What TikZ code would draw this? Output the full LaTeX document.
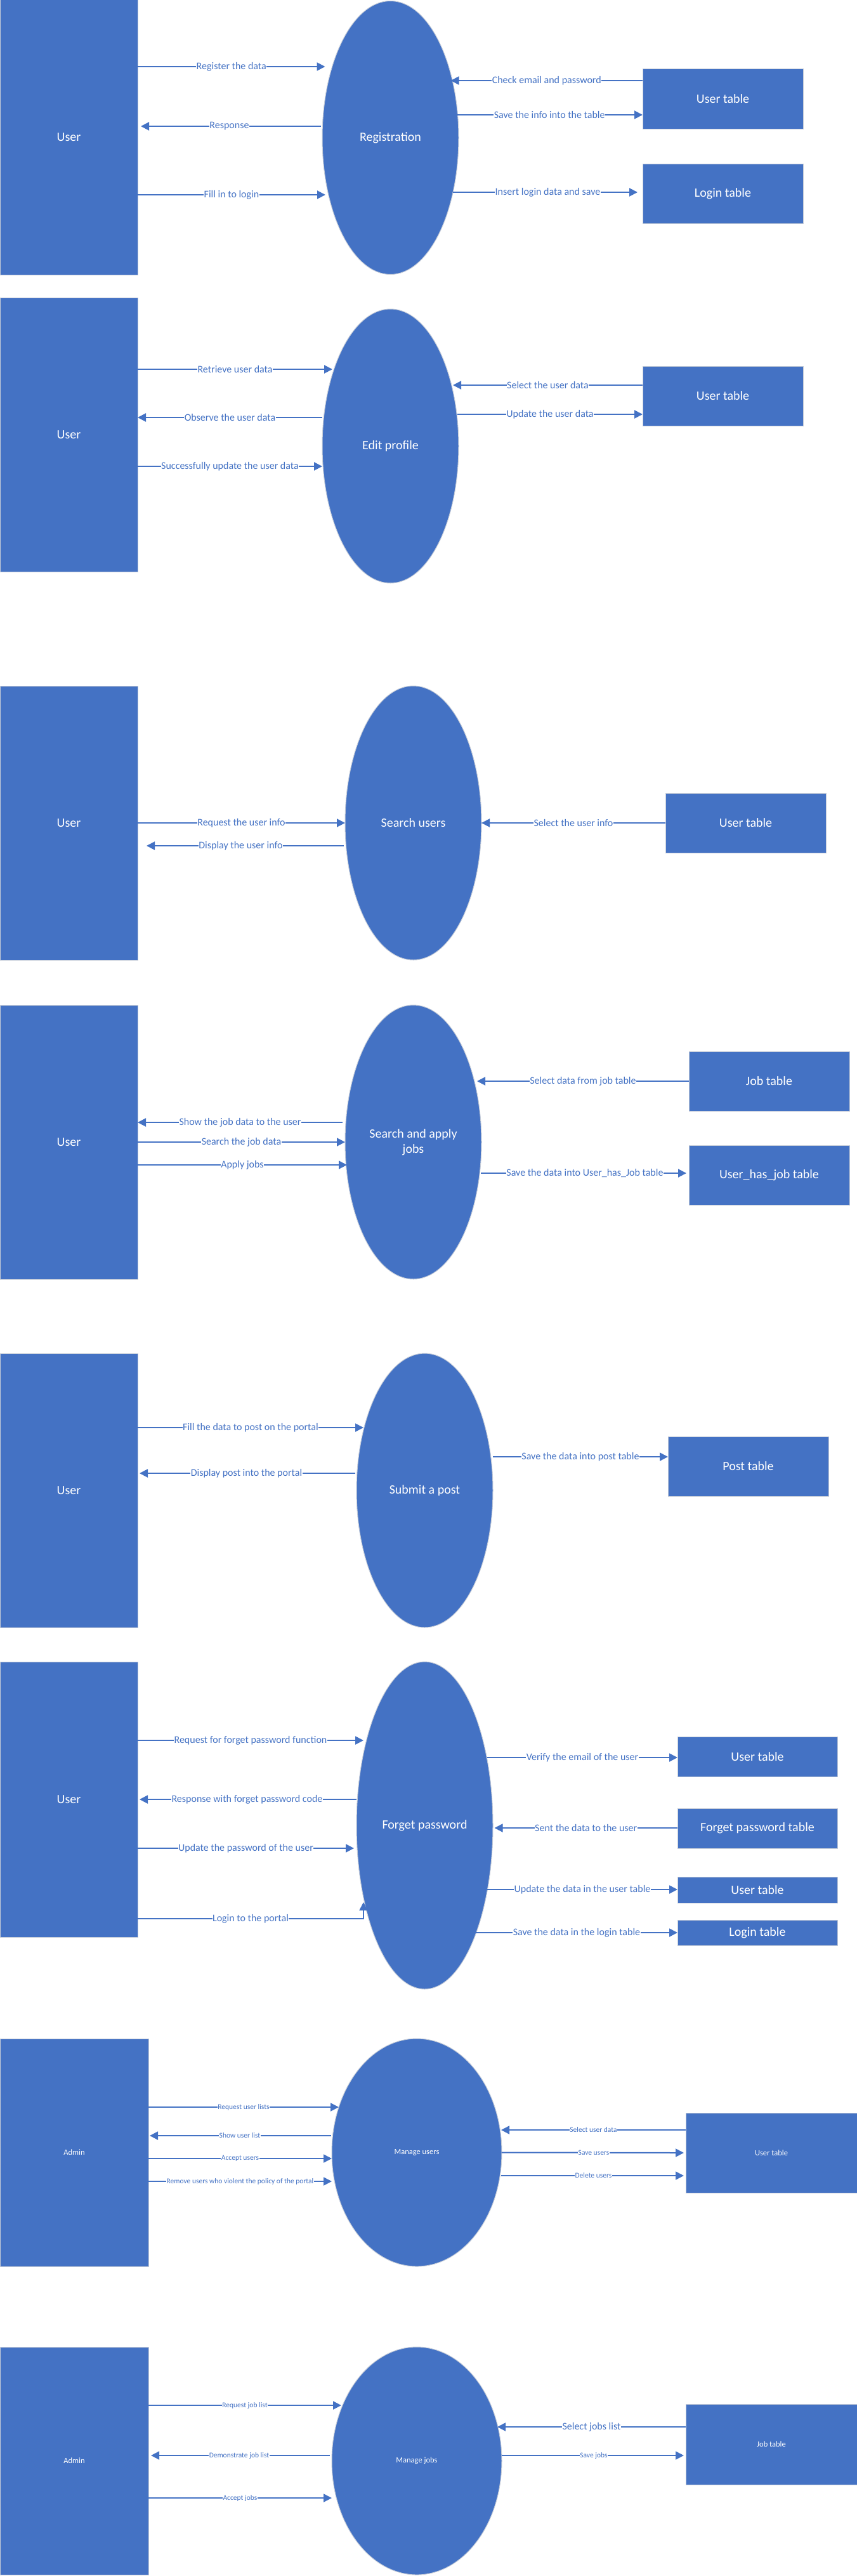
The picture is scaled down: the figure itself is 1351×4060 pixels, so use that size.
\documentclass[tikz,border=0pt]{standalone}
\usepackage{fontspec}
\setmainfont{Carlito}
\usetikzlibrary{shapes.geometric,arrows.meta,calc}
\definecolor{blu}{HTML}{4472C4}
\definecolor{edgec}{HTML}{C5CCD8}
\newcommand\fBig{\fontsize{20}{24}\selectfont}
\newcommand\fLab{\fontsize{16}{19}\selectfont}
\newcommand\fSmB{\fontsize{12.5}{15}\selectfont}
\newcommand\fSmL{\fontsize{11.5}{14}\selectfont}
\begin{document}
\begin{tikzpicture}[x=1pt,y=-1pt,
  ent/.style={rectangle,fill=blu,draw=edgec,line width=1pt,text=white,font=\fBig,inner sep=0pt,outer sep=0pt,align=center},
  proc/.style={ellipse,fill=blu,draw=edgec,line width=1pt,text=white,font=\fBig,inner sep=0pt,outer sep=0pt,align=center},
  sz/.style 2 args={minimum width=#1pt,minimum height=#2pt},
  arr/.style={draw=blu,line width=2pt,-{Triangle[length=13pt,width=13pt]}},
  lab/.style={fill=white,text=blu,font=\fLab,inner sep=0.5pt},
  slab/.style={lab,font=\fSmL},
  sent/.style={font=\fSmB}]
\useasboundingbox[fill=white] (0,0) rectangle (1351,4060);

% ---------- Registration ----------
\node[ent,sz={217}{433}] (u1) at (108.5,216.5) {User};
\node[proc,sz={215}{431}] (p1) at (615.5,217) {Registration};
\node[ent,sz={253}{94}] (t1a) at (1139.5,156) {User table};
\node[ent,sz={253}{94}] (t1b) at (1139.5,305) {Login table};
\draw[arr] (u1.east |- 0,105) -- node[lab]{Register the data} ($(p1.center)+(-103,-112)$);
\draw[arr] (t1a.west |- 0,127) -- node[lab]{Check email and password} ($(p1.center)+(95,-90)$);
\draw[arr] ($(p1.center)+(104,-36)$) -- node[lab]{Save the info into the table} (t1a.west |- 0,181);
\draw[arr,shorten >=5pt] ($(p1.center)+(-109.5,-18)$) -- node[lab]{Response} (u1.east |- 0,199);
\draw[arr] (u1.east |- 0,307) -- node[lab]{Fill in to login} ($(p1.center)+(-102.5,90)$);
\draw[arr,shorten >=8pt] ($(p1.center)+(98.5,86)$) -- node[lab]{Insert login data and save} (t1b.west |- 0,303);

% ---------- Edit profile ----------
\node[ent,sz={217}{432}] (u2) at (108.5,685) {User};
\node[proc,sz={215}{432}] (p2) at (615.5,703) {Edit profile};
\node[ent,sz={253}{94}] (t2) at (1139.5,624) {User table};
\draw[arr] (u2.east |- 0,582) -- node[lab]{Retrieve user data} ($(p2.center)+(-91.5,-121)$);
\draw[arr] (t2.west |- 0,607) -- node[lab]{Select the user data} ($(p2.center)+(98.5,-96)$);
\draw[arr] ($(p2.center)+(105.5,-50)$) -- node[lab]{Update the user data} (t2.west |- 0,653);
\draw[arr] ($(p2.center)+(-107.5,-45)$) -- node[lab]{Observe the user data} (u2.east |- 0,658);
\draw[arr] (u2.east |- 0,735) -- node[lab]{Successfully update the user data} ($(p2.center)+(-107.5,32)$);

% ---------- Search users ----------
\node[ent,sz={217}{432}] (u3) at (108.5,1297) {User};
\node[proc,sz={215}{432}] (p3) at (651.5,1297) {Search users};
\node[ent,sz={253}{94}] (t3) at (1175.5,1297) {User table};
\draw[arr] (u3.east) -- node[lab]{Request the user info} (p3.west);
\draw[arr] (t3.west) -- node[lab]{Select the user info} (p3.east);
\draw[arr,shorten >=14pt] ($(p3.center)+(-109.5,36)$) -- node[lab]{Display the user info} (u3.east |- 0,1333);

% ---------- Search and apply jobs ----------
\node[ent,sz={217}{432}] (u4) at (108.5,1800) {User};
\node[proc,sz={215}{432}] (p4) at (651.5,1800) {Search and apply\\jobs};
\node[ent,sz={253}{94}] (tj) at (1212.5,1704) {Job table};
\node[ent,sz={253}{94}] (tuj) at (1212.5,1852) {User\_has\_job table};
\draw[arr] (tj.west) -- node[lab]{Select data from job table} ($(p4.center)+(100.5,-96)$);
\draw[arr] ($(p4.center)+(-111.5,-31)$) -- node[lab]{Show the job data to the user} (u4.east |- 0,1769);
\draw[arr] (u4.east) -- node[lab]{Search the job data} (p4.west);
\draw[arr] (u4.east |- 0,1836) -- node[lab]{Apply jobs} ($(p4.center)+(-104.5,36)$);
\draw[arr,shorten >=4pt] ($(p4.center)+(106.5,49)$) -- node[lab]{Save the data into User\_has\_Job table} (tuj.west |- 0,1849);

% ---------- Submit a post ----------
\node[ent,sz={217}{432}] (u5) at (108.5,2349) {User};
\node[proc,sz={215}{432}] (p5) at (669.5,2349) {Submit a post};
\node[ent,sz={253}{94}] (tp) at (1179.5,2311) {Post table};
\draw[arr] (u5.east |- 0,2250) -- node[lab]{Fill the data to post on the portal} ($(p5.center)+(-96.5,-99)$);
\draw[arr] ($(p5.center)+(107.5,-53)$) -- node[lab]{Save the data into post table} (tp.west |- 0,2296);
\draw[arr,shorten >=3pt] ($(p5.center)+(-109.5,-27)$) -- node[lab]{Display post into the portal} (u5.east |- 0,2322);

% ---------- Forget password ----------
\node[ent,sz={217}{434}] (u6) at (108.5,2836) {User};
\node[proc,sz={215}{516}] (p6) at (669.5,2877) {Forget password};
\node[ent,sz={252}{63}] (tu1) at (1194,2768.5) {User table};
\node[ent,sz={252}{63}] (tfp) at (1194,2881.5) {Forget password table};
\node[ent,sz={252}{41}] (tu2) at (1194,2978.5) {User table};
\node[ent,sz={252}{40}] (tl) at (1194,3046) {Login table};
\draw[arr] (u6.east |- 0,2743) -- node[lab]{Request for forget password function} ($(p6.center)+(-96.5,-134)$);
\draw[arr] ($(p6.center)+(98.5,-107)$) -- node[lab]{Verify the email of the user} (tu1.west |- 0,2770);
\draw[arr,shorten >=3pt] ($(p6.center)+(-107.5,-41)$) -- node[lab]{Response with forget password code} (u6.east |- 0,2836);
\draw[arr] (tfp.west |- 0,2881) -- node[lab]{Sent the data to the user} ($(p6.center)+(110,4)$);
\draw[arr] (u6.east |- 0,2913) -- node[lab]{Update the password of the user} ($(p6.center)+(-111.5,36)$);
\draw[arr] ($(p6.center)+(98.5,101)$) -- node[lab]{Update the data in the user table} (tu2.west |- 0,2978);
\draw[arr] (u6.east |- 0,3024) -| node[lab,pos=0.25]{Login to the portal} ($(p6.center)+(-96.5,121)$);
\draw[arr] ($(p6.center)+(80.5,169)$) -- node[lab]{Save the data in the login table} (tl.west |- 0,3046);

% ---------- Manage users ----------
\node[ent,sent,sz={234}{359}] (ua7) at (117,3392.5) {Admin};
\node[proc,sent,sz={268}{359}] (p7) at (657,3392.5) {Manage users};
\node[ent,sent,sz={270}{126}] (tu7) at (1216,3393) {User table};
\draw[arr] (ua7.east |- 0,3321) -- node[slab]{Request user lists} ($(p7.center)+(-123,-71.5)$);
\draw[arr,shorten >=2pt] ($(p7.center)+(-135,-26.5)$) -- node[slab]{Show user list} (ua7.east |- 0,3366);
\draw[arr] (ua7.east |- 0,3402) -- node[slab]{Accept users} ($(p7.center)+(-134,9.5)$);
\draw[arr] (ua7.east |- 0,3438) -- node[slab]{Remove users who violent the policy of the portal} ($(p7.center)+(-134,45.5)$);
\draw[arr] (tu7.west |- 0,3357) -- node[slab]{Select user data} ($(p7.center)+(133,-35.5)$);
\draw[arr,shorten >=3pt] (p7.east) -- node[slab]{Save users} (tu7.west);
\draw[arr,shorten >=3pt] ($(p7.center)+(133,36.5)$) -- node[slab]{Delete users} (tu7.west |- 0,3429);

% ---------- Manage jobs ----------
\node[ent,sent,sz={234}{359}] (ua8) at (117,3878.5) {Admin};
\node[proc,sent,sz={268}{359}] (p8) at (657,3878.5) {Manage jobs};
\node[ent,sent,sz={270}{127}] (tj8) at (1216,3852.5) {Job table};
\draw[arr] (ua8.east |- 0,3791) -- node[slab]{Request job list} ($(p8.center)+(-119,-87.5)$);
\draw[arr] (tj8.west |- 0,3825) -- node[lab]{Select jobs list} ($(p8.center)+(127,-53.5)$);
\draw[arr,shorten >=4pt] ($(p8.center)+(-137,-8.5)$) -- node[slab]{Demonstrate job list} (ua8.east |- 0,3870);
\draw[arr,shorten >=3pt] ($(p8.center)+(134,-8.5)$) -- node[slab]{Save jobs} (tj8.west |- 0,3870);
\draw[arr] (ua8.east |- 0,3937) -- node[slab]{Accept jobs} ($(p8.center)+(-134,58.5)$);
\end{tikzpicture}
\end{document}
